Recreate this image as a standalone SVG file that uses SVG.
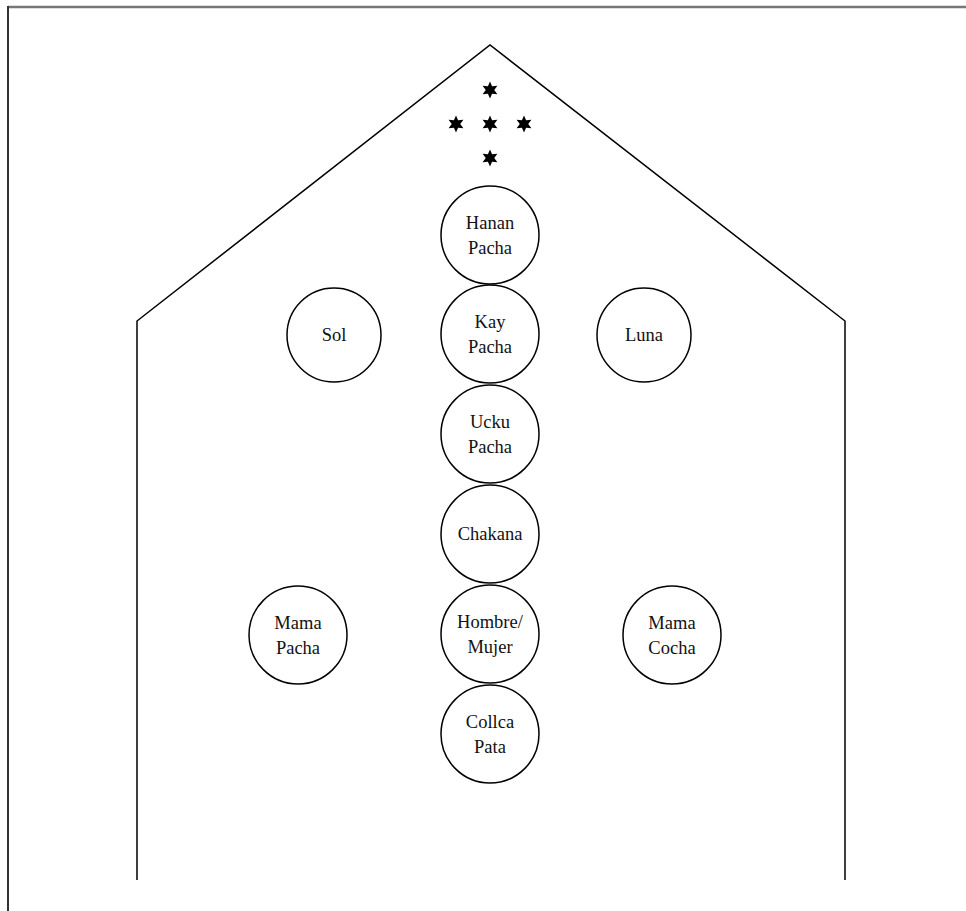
<svg xmlns="http://www.w3.org/2000/svg" width="966" height="911" viewBox="0 0 966 911">
<style>
.node circle{fill:#fff;stroke:#000;stroke-width:1.5}
.node text{font-family:"Liberation Serif","Times New Roman",serif;font-size:18.5px;text-anchor:middle;fill:#111}
.wall{fill:none;stroke:#000;stroke-width:1.5}
</style>
<defs>
<polygon id="star" points="0,-8.5 2.1,-3.7 7.4,-4.25 4.25,0 7.4,4.25 2.1,3.7 0,8.5 -2.1,3.7 -7.4,4.25 -4.25,0 -7.4,-4.25 -2.1,-3.7" fill="#000"/>
</defs>
<rect width="966" height="911" fill="#fff"/>
<g id="frame">
<line x1="8" y1="7" x2="966" y2="7" stroke="#777" stroke-width="2.5"/>
<line x1="8" y1="6" x2="8" y2="911" stroke="#333" stroke-width="2"/>
</g>
<g id="connectors">
<polyline class="wall" points="137,880 137,321 490,45 845,321 845,880"/>
</g>
<g id="stars">
<use href="#star" x="490" y="90"/>
<use href="#star" x="456" y="124"/>
<use href="#star" x="490" y="124"/>
<use href="#star" x="524" y="124"/>
<use href="#star" x="490" y="158"/>
</g>
<g id="hanan" class="node"><circle cx="490" cy="235" r="49"/><text x="490" y="229">Hanan</text><text x="490" y="254">Pacha</text></g>
<g id="kay" class="node"><circle cx="490" cy="334" r="49"/><text x="490" y="328">Kay</text><text x="490" y="353">Pacha</text></g>
<g id="ucku" class="node"><circle cx="490" cy="434" r="49"/><text x="490" y="428">Ucku</text><text x="490" y="453">Pacha</text></g>
<g id="chakana" class="node"><circle cx="490" cy="534" r="49"/><text x="490" y="540">Chakana</text></g>
<g id="hombre" class="node"><circle cx="490" cy="634" r="49"/><text x="490" y="628">Hombre/</text><text x="490" y="653">Mujer</text></g>
<g id="collca" class="node"><circle cx="490" cy="734" r="49"/><text x="490" y="728">Collca</text><text x="490" y="753">Pata</text></g>
<g id="sol" class="node"><circle cx="334" cy="335" r="47"/><text x="334" y="341">Sol</text></g>
<g id="luna" class="node"><circle cx="644" cy="335" r="47"/><text x="644" y="341">Luna</text></g>
<g id="mamapacha" class="node"><circle cx="298" cy="635" r="49"/><text x="298" y="629">Mama</text><text x="298" y="654">Pacha</text></g>
<g id="mamacocha" class="node"><circle cx="672" cy="635" r="49"/><text x="672" y="629">Mama</text><text x="672" y="654">Cocha</text></g>
</svg>
